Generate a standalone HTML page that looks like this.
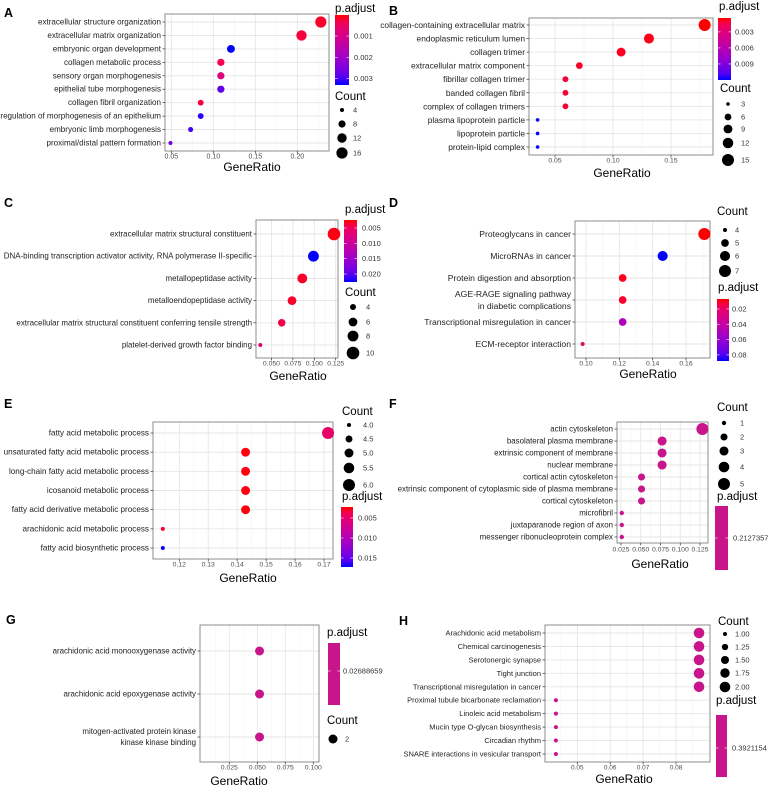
<!DOCTYPE html>
<html><head><meta charset="utf-8"><style>
html,body{margin:0;padding:0;background:#fff;}
svg{display:block;font-family:"Liberation Sans",Arial,sans-serif;}
</style></head><body>
<svg id="fig" width="770" height="786" viewBox="0 0 770 786" xmlns="http://www.w3.org/2000/svg">
<rect width="770" height="786" fill="#fff"/>
</svg>
<script>
// ---------- data ----------
const aCats = ["extracellular structure organization","extracellular matrix organization","embryonic organ development","collagen metabolic process","sensory organ morphogenesis","epithelial tube morphogenesis","collagen fibril organization","regulation of morphogenesis of an epithelium","embryonic limb morphogenesis","proximal/distal pattern formation"];
const aRatio = [0.228,0.205,0.121,0.109,0.109,0.109,0.085,0.085,0.073,0.049];
const aCount = [16,14,9,8,8,8,6,6,5,4];
const aPadj = [0.0001,0.0002,0.0033,0.0003,0.0008,0.0028,0.0002,0.0032,0.0031,0.0026];
const aTicks = [0.05,0.10,0.15,0.20];
const aBarTicks = [0.001,0.002,0.003];
const aLegCounts = [4,8,12,16];

const bCats = ["collagen-containing extracellular matrix","endoplasmic reticulum lumen","collagen trimer","extracellular matrix component","fibrillar collagen trimer","banded collagen fibril","complex of collagen trimers","plasma lipoprotein particle","lipoprotein particle","protein-lipid complex"];
const bRatio = [0.179,0.131,0.107,0.071,0.059,0.059,0.059,0.035,0.035,0.035];
const bCount = [15,11,9,6,5,5,5,3,3,3];
const bPadj = [0.0004,0.0005,0.0006,0.0008,0.001,0.001,0.001,0.012,0.012,0.012];
const bTicks = [0.05,0.10,0.15];
const bBarTicks = [0.003,0.006,0.009];
const bLegCounts = [3,6,9,12,15];

const cCats = ["extracellular matrix structural constituent","DNA-binding transcription activator activity, RNA polymerase II-specific","metallopeptidase activity","metalloendopeptidase activity","extracellular matrix structural constituent conferring tensile strength","platelet-derived growth factor binding"];
const cRatio = [0.123,0.099,0.086,0.074,0.062,0.037];
const cCount = [10,8,7,6,5,3];
const cPadj = [0.0025,0.0226,0.003,0.003,0.004,0.006];
const cTicks = [0.050,0.075,0.100,0.125];
const cBarTicks = [0.005,0.010,0.015,0.020];
const cLegCounts = [4,6,8,10];

const dCats = ["Proteoglycans in cancer","MicroRNAs in cancer","Protein digestion and absorption","AGE-RAGE signaling pathway\nin diabetic complications","Transcriptional misregulation in cancer","ECM-receptor interaction"];
const dRatio = [0.171,0.146,0.122,0.122,0.122,0.098];
const dCount = [7,6,5,5,5,4];
const dPadj = [0.007,0.088,0.008,0.010,0.050,0.020];
const dTicks = [0.10,0.12,0.14,0.16];
const dBarTicks = [0.02,0.04,0.06,0.08];
const dLegCounts = [4,5,6,7];

const eCats = ["fatty acid metabolic process","unsaturated fatty acid metabolic process","long-chain fatty acid metabolic process","icosanoid metabolic process","fatty acid derivative metabolic process","arachidonic acid metabolic process","fatty acid biosynthetic process"];
const eRatio = [0.1714,0.1429,0.1429,0.1429,0.1429,0.1143,0.1143];
const eCount = [6,5,5,5,5,4,4];
const ePadj = [0.0048,0.0023,0.0023,0.0023,0.0023,0.003,0.0172];
const eTicks = [0.12,0.13,0.14,0.15,0.16,0.17];
const eBarTicks = [0.005,0.010,0.015];
const eLegCounts = [4.0,4.5,5.0,5.5,6.0];

const fCats = ["actin cytoskeleton","basolateral plasma membrane","extrinsic component of membrane","nuclear membrane","cortical actin cytoskeleton","extrinsic component of cytoplasmic side of plasma membrane","cortical cytoskeleton","microfibril","juxtaparanode region of axon","messenger ribonucleoprotein complex"];
const fRatio = [0.128,0.077,0.077,0.077,0.051,0.051,0.051,0.026,0.026,0.026];
const fCount = [5,3,3,3,2,2,2,1,1,1];
const fPadj = [0.2127357,0.2127357,0.2127357,0.2127357,0.2127357,0.2127357,0.2127357,0.2127357,0.2127357,0.2127357];
const fTicks = [0.025,0.050,0.075,0.100,0.125];
const fBarTicks = [0.2127357];
const fLegCounts = [1,2,3,4,5];

const gCats = ["arachidonic acid monooxygenase activity","arachidonic acid epoxygenase activity","mitogen-activated protein kinase\nkinase kinase binding"];
const gRatio = [0.052,0.052,0.052];
const gCount = [2,2,2];
const gPadj = [0.02688659,0.02688659,0.02688659];
const gTicks = [0.025,0.050,0.075,0.100];
const gBarTicks = [0.02688659];
const gLegCounts = [2];

const hCats = ["Arachidonic acid metabolism","Chemical carcinogenesis","Serotonergic synapse","Tight junction","Transcriptional misregulation in cancer","Proximal tubule bicarbonate reclamation","Linoleic acid metabolism","Mucin type O-glycan biosynthesis","Circadian rhythm","SNARE interactions in vesicular transport"];
const hRatio = [0.087,0.087,0.087,0.087,0.087,0.0435,0.0435,0.0435,0.0435,0.0435];
const hCount = [2,2,2,2,2,1,1,1,1,1];
const hPadj = [0.3921154,0.3921154,0.3921154,0.3921154,0.3921154,0.3921154,0.3921154,0.3921154,0.3921154,0.3921154];
const hTicks = [0.05,0.06,0.07,0.08];
const hBarTicks = [0.3921154];
const hLegCounts = [1.00,1.25,1.50,1.75,2.00];

// ---------- layout ----------
const panels = [
 {id:"a",letter:"A",lx:4,ly:13,cats:aCats,ratio:aRatio,count:aCount,padj:aPadj,ticks:aTicks,tickFmt:2,barTicks:aBarTicks,barFmt:3,legCounts:aLegCounts,legFmt:0,
  L:165,R:329,T:14,B:151,y1:22,yN:143,xv:[0.05,0.20],xp:[171.3,297.3],fs:8.05,tfs:7,xtY:157,gX:252,gY:167,
  pT:0.00001,pB:0.0033,bar:[335,15,14,70],barLX:354,ptY:9,ptX:335,single:false,
  cT:97,cX:335,dX:342,dYs:[110,124,138,153],dLX:353,cmin:4,cmax:16,rmin:2,rmax:5.6},
 {id:"b",letter:"B",lx:389,ly:11,cats:bCats,ratio:bRatio,count:bCount,padj:bPadj,ticks:bTicks,tickFmt:2,barTicks:bBarTicks,barFmt:3,legCounts:bLegCounts,legFmt:0,
  L:529,R:713,T:18,B:155,y1:25,yN:147,xv:[0.05,0.15],xp:[555,671],fs:8.4,tfs:6.8,xtY:161,gX:622,gY:173,
  pT:0.0004,pB:0.012,bar:[718,18,13,62],barLX:735,ptY:7,ptX:719,single:false,
  cT:89,cX:720,dX:728,dYs:[104,117,129,143,160],dLX:741,cmin:3,cmax:15,rmin:1.8,rmax:6},
 {id:"c",letter:"C",lx:4,ly:203,cats:cCats,ratio:cRatio,count:cCount,padj:cPadj,ticks:cTicks,tickFmt:3,barTicks:cBarTicks,barFmt:3,legCounts:cLegCounts,legFmt:0,
  L:256,R:338,T:220,B:358,y1:234,yN:345,xv:[0.037,0.123],xp:[260.3,334],fs:7.95,tfs:6.8,xtY:364,gX:298,gY:376,
  pT:0.0024,pB:0.0226,bar:[344,220,13,62],barLX:362,ptY:210,ptX:345,single:false,
  cT:293,cX:345,dX:353,dYs:[307,322,336,353],dLX:366,cmin:3,cmax:10,rmin:2,rmax:6.3},
 {id:"d",letter:"D",lx:389,ly:203,cats:dCats,ratio:dRatio,count:dCount,padj:dPadj,ticks:dTicks,tickFmt:2,barTicks:dBarTicks,barFmt:2,legCounts:dLegCounts,legFmt:0,
  L:575,R:710,T:221,B:358,y1:234,yN:344,xv:[0.10,0.16],xp:[586,686],fs:8.6,tfs:6.8,xtY:364,gX:648,gY:374,
  pT:0.007,pB:0.088,bar:[717,299,12,62],barLX:732,ptY:288,ptX:718,single:false,
  cT:212,cX:717,dX:725,dYs:[230,243,256,271],dLX:735,cmin:4,cmax:7,rmin:2,rmax:6},
 {id:"e",letter:"E",lx:4,ly:404,cats:eCats,ratio:eRatio,count:eCount,padj:ePadj,ticks:eTicks,tickFmt:2,barTicks:eBarTicks,barFmt:3,legCounts:eLegCounts,legFmt:1,
  L:153,R:333,T:422,B:559,y1:433,yN:548,xv:[0.12,0.17],xp:[179.3,324],fs:8.15,tfs:6.8,xtY:565,gX:248,gY:578,
  pT:0.00225,pB:0.01725,bar:[341,507,12,60],barLX:358,ptY:497,ptX:342,single:false,
  cT:412,cX:342,dX:349,dYs:[425,439,453,468,485],dLX:363,cmin:4,cmax:6,rmin:2,rmax:6},
 {id:"f",letter:"F",lx:389,ly:404,cats:fCats,ratio:fRatio,count:fCount,padj:fPadj,ticks:fTicks,tickFmt:3,barTicks:fBarTicks,barFmt:7,legCounts:fLegCounts,legFmt:0,
  L:617,R:708,T:422,B:543,y1:429,yN:537,xv:[0.025,0.125],xp:[621,700],fs:7.9,tfs:6.8,xtY:550,gX:660,gY:564,
  pT:0,pB:1,bar:[715,506,13,64],barLX:733,ptY:497,ptX:717,single:true,barLY:538,
  cT:408,cX:717,dX:724,dYs:[423,437,451,467,484],dLX:740,cmin:1,cmax:5,rmin:2.2,rmax:6},
 {id:"g",letter:"G",lx:6,ly:620,cats:gCats,ratio:gRatio,count:gCount,padj:gPadj,ticks:gTicks,tickFmt:3,barTicks:gBarTicks,barFmt:8,legCounts:gLegCounts,legFmt:0,
  L:200,R:319,T:625,B:762,y1:651,yN:737,xv:[0.025,0.100],xp:[229.3,313.3],fs:7.9,tfs:6.8,xtY:768,gX:239,gY:781,
  pT:0,pB:1,bar:[328,643,12,62],barLX:343,ptY:633,ptX:327,single:true,barLY:671,
  cT:721,cX:327,dX:333,dYs:[739],dLX:345,cmin:1,cmax:2,rmin:2,rmax:4.5},
 {id:"h",letter:"H",lx:399,ly:621,cats:hCats,ratio:hRatio,count:hCount,padj:hPadj,ticks:hTicks,tickFmt:2,barTicks:hBarTicks,barFmt:7,legCounts:hLegCounts,legFmt:2,
  L:545,R:710,T:625,B:762,y1:633,yN:754,xv:[0.05,0.08],xp:[577.3,676],fs:7.5,tfs:6.5,xtY:768,gX:624,gY:779,
  pT:0,pB:1,bar:[716,715,11,62],barLX:732,ptY:701,ptX:716,single:true,barLY:748,
  cT:622,cX:718,dX:725,dYs:[634,647,660,673,687],dLX:735,cmin:1,cmax:2,rmin:2,rmax:5.3}
];

const NS = "http://www.w3.org/2000/svg";
const svg = document.getElementById("fig");
function mk(parent, tag, attrs, text){
  const e = document.createElementNS(NS, tag);
  for (const k in attrs) e.setAttribute(k, attrs[k]);
  if (text !== undefined) e.textContent = text;
  parent.appendChild(e);
  return e;
}
function colorOf(p, pT, pB){
  let t = (p - pT) / (pB - pT);
  t = Math.max(0, Math.min(1, t));
  const r = Math.round(255*Math.sqrt(1-t)), b = Math.round(255*Math.sqrt(t));
  return "rgb(" + r + ",0," + b + ")";
}
const MAG = "#c8158a";
const defs = mk(svg, "defs", {});

panels.forEach(P => {
  const g = mk(svg, "g", {});
  
  

  const xs = v => P.xp[0] + (v - P.xv[0]) * (P.xp[1]-P.xp[0])/(P.xv[1]-P.xv[0]);
  const n = P.cats.length;
  const ys = i => n === 1 ? (P.y1+P.yN)/2 : P.y1 + i*(P.yN-P.y1)/(n-1);
  const rs = c => Math.sqrt(P.rmin*P.rmin + (P.rmax*P.rmax - P.rmin*P.rmin) * Math.max(0,(c - P.cmin))/(P.cmax - P.cmin));

  const letter = mk(g, "text", {x:P.lx, y:P.ly, "font-size":12.5, "font-weight":"bold", fill:"#000", "dominant-baseline":"central"}, P.letter);
  
  

  const step = P.ticks[1]-P.ticks[0];
  for (let v = P.ticks[0]-step*3; v <= P.ticks[P.ticks.length-1]+step*3; v += step){
    const xm = xs(v + step/2);
    if (xm > P.L && xm < P.R) {
      const gl = mk(g, "line", {x1:xm, x2:xm, y1:P.T, y2:P.B, stroke:"#f2f2f2", "stroke-width":0.6});
      
      
    }
  }
  P.ticks.forEach(v => {
    const x = xs(v);
    const gl = mk(g, "line", {x1:x, x2:x, y1:P.T, y2:P.B, stroke:"#e6e6e6", "stroke-width":0.9});
    
    
  });
  P.cats.forEach((c,i) => {
    const gl = mk(g, "line", {x1:P.L, x2:P.R, y1:ys(i), y2:ys(i), stroke:"#e6e6e6", "stroke-width":0.9});
    
    
  });
  const frame = mk(g, "rect", {x:P.L, y:P.T, width:P.R-P.L, height:P.B-P.T, fill:"none", stroke:"#8c8c8c", "stroke-width":1});
  
  

  P.ticks.forEach(v => {
    const x = xs(v);
    mk(g, "line", {x1:x, x2:x, y1:P.B, y2:P.B+2.5, stroke:"#333", "stroke-width":0.7});
    const t = mk(g, "text", {x:x, y:P.xtY, "font-size":P.tfs, fill:"#4d4d4d", "text-anchor":"middle", "dominant-baseline":"central"}, v.toFixed(P.tickFmt));
    
    
  });
  const gt = mk(g, "text", {x:P.gX, y:P.gY, "font-size":12, fill:"#000", "text-anchor":"middle", "dominant-baseline":"central"}, "GeneRatio");
  
  

  P.cats.forEach((c,i) => {
    const y = ys(i);
    mk(g, "line", {x1:P.L-2.5, x2:P.L, y1:y, y2:y, stroke:"#333", "stroke-width":0.7});
    const lines = c.split("\n");
    lines.forEach((ln, k) => {
      const dy = (k - (lines.length-1)/2) * P.fs * 1.35;
      const t = mk(g, "text", {x:P.L-4, y:y+dy, "font-size":P.fs, fill:"#222", "text-anchor":"end", "dominant-baseline":"central"}, ln);
      
      
    });
  });

  P.ratio.forEach((r,i) => {
    const col = P.single ? MAG : colorOf(P.padj[i], P.pT, P.pB);
    const d = mk(g, "circle", {cx:xs(r), cy:ys(i), r:rs(P.count[i]), fill:col});
    
    
  });

  const pt = mk(g, "text", {x:P.ptX, y:P.ptY, "font-size":11.5, fill:"#000", "dominant-baseline":"central"}, "p.adjust");
  
  
  const [bx,by,bw,bh] = P.bar;
  let fill = MAG;
  if (!P.single){
    const gr = mk(defs, "linearGradient", {id:"grad-"+P.id, x1:0, y1:0, x2:0, y2:1});
    for (let k=0;k<=10;k++){
      mk(gr, "stop", {offset:(k/10), "stop-color":colorOf(P.pT + (P.pB-P.pT)*k/10, P.pT, P.pB)});
    }
    fill = "url(#grad-"+P.id+")";
  }
  const bar = mk(g, "rect", {x:bx, y:by, width:bw, height:bh, fill:fill});
  
  
  P.barTicks.forEach(v => {
    const y = P.single ? P.barLY : by + (v - P.pT)/(P.pB - P.pT)*bh;
    mk(g, "line", {x1:bx, x2:bx+2.5, y1:y, y2:y, stroke:"#fff", "stroke-width":0.6});
    mk(g, "line", {x1:bx+bw-2.5, x2:bx+bw, y1:y, y2:y, stroke:"#fff", "stroke-width":0.6});
    const t = mk(g, "text", {x:P.barLX, y:y, "font-size":7.5, fill:"#333", "dominant-baseline":"central"}, v.toFixed(P.barFmt));
    
    
  });

  const ct = mk(g, "text", {x:P.cX, y:P.cT, "font-size":11.5, fill:"#000", "dominant-baseline":"central"}, "Count");
  
  
  P.legCounts.forEach((c,k) => {
    const y = P.dYs[k];
    const d = mk(g, "circle", {cx:P.dX, cy:y, r:rs(c), fill:"#000"});
    
    
    const t = mk(g, "text", {x:P.dLX, y:y, "font-size":7.5, fill:"#333", "dominant-baseline":"central"}, c.toFixed(P.legFmt));
    
    
  });
});
</script>
</body></html>
